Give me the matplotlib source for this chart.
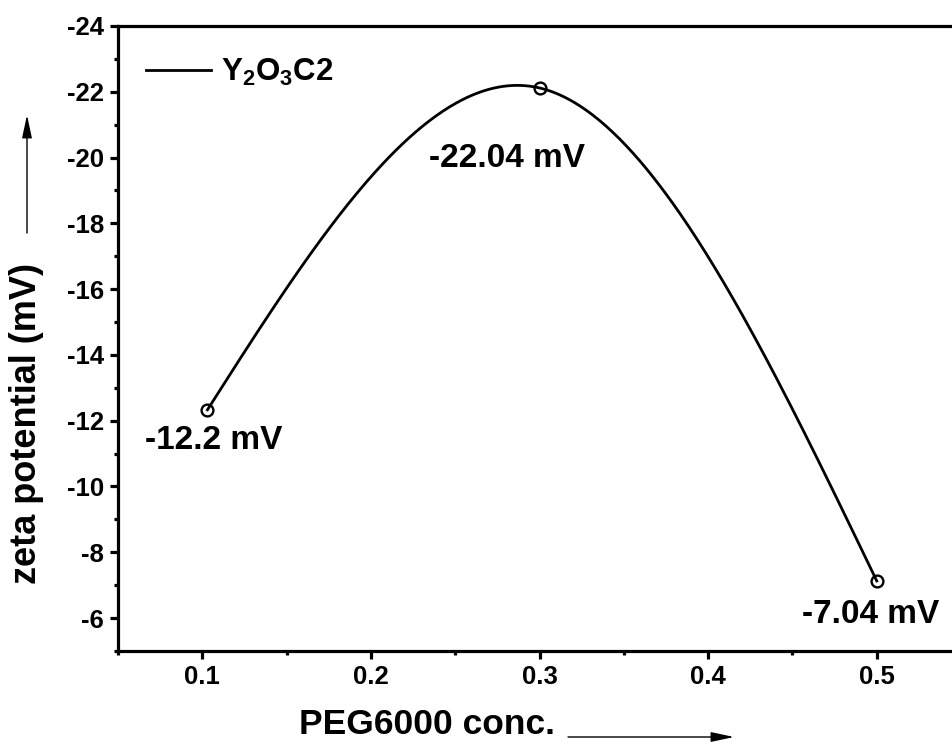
import matplotlib
matplotlib.use("Agg")
import matplotlib.pyplot as plt
import numpy as np

plt.rcParams['font.family'] = ['Liberation Sans', 'DejaVu Sans']
plt.rcParams['font.weight'] = 'bold'
plt.rcParams['mathtext.fontset'] = 'custom'
plt.rcParams['mathtext.rm'] = 'Liberation Sans:bold'
plt.rcParams['mathtext.it'] = 'Liberation Sans:bold'
plt.rcParams['mathtext.bf'] = 'Liberation Sans:bold'
plt.rcParams['mathtext.default'] = 'rm'

# data
peg_conc = [0.103, 0.3005, 0.5]
zeta = [-12.33, -22.11, -7.13]
point_labels = ['-12.2 mV', '-22.04 mV', '-7.04 mV']
label_pos = [(0.107, -11.39), (0.2807, -19.96), (0.4966, -6.10)]
series_name = 'Y$_2$O$_3$C2'


def natural_spline(x, y, n=300):
    # natural cubic spline through the measured points (like Origin's spline line)
    x = np.asarray(x, float)
    y = np.asarray(y, float)
    k = len(x)
    h = np.diff(x)
    A = np.zeros((k, k))
    r = np.zeros(k)
    A[0, 0] = A[-1, -1] = 1
    for i in range(1, k - 1):
        A[i, i - 1] = h[i - 1]
        A[i, i] = 2 * (h[i - 1] + h[i])
        A[i, i + 1] = h[i]
        r[i] = 6 * ((y[i + 1] - y[i]) / h[i] - (y[i] - y[i - 1]) / h[i - 1])
    M = np.linalg.solve(A, r)
    xs = np.linspace(x[0], x[-1], n)
    idx = np.clip(np.searchsorted(x, xs) - 1, 0, k - 2)
    x0, x1, hi = x[idx], x[idx + 1], h[idx]
    ys = (M[idx] * (x1 - xs) ** 3 / (6 * hi) + M[idx + 1] * (xs - x0) ** 3 / (6 * hi)
          + (y[idx] / hi - M[idx] * hi / 6) * (x1 - xs)
          + (y[idx + 1] / hi - M[idx + 1] * hi / 6) * (xs - x0))
    return xs, ys


fig = plt.figure(figsize=(9.52, 7.51), dpi=100)
ax = fig.add_axes([0.124, 0.1332, 0.8855, 0.8322])

xs, ys = natural_spline(peg_conc, zeta)
ax.plot(xs, ys, color='black', lw=2.0, label=series_name)
ax.plot(peg_conc, zeta, 'o', mfc='none', mec='black', ms=8.5, mew=1.7)

for txt, (tx, ty) in zip(point_labels, label_pos):
    ax.text(tx, ty, txt, fontsize=24, fontweight='bold', ha='center', va='center')

ax.set_xlim(0.05, 0.55)
ax.set_ylim(-5, -24)
ax.set_xticks([0.1, 0.2, 0.3, 0.4, 0.5])
ax.set_xticks(np.arange(0.05, 0.56, 0.05), minor=True)
ax.set_yticks(np.arange(-6, -25, -2))
ax.set_yticks(np.arange(-5, -25, -1), minor=True)
ax.set_yticklabels([str(v) for v in range(-6, -25, -2)])

for s in ax.spines.values():
    s.set_linewidth(2.3)
ax.tick_params(which='major', direction='out', length=6, width=2.3, labelsize=18.5, pad=4)
ax.tick_params(which='minor', direction='out', length=3, width=2.3)
for lab in ax.get_xticklabels() + ax.get_yticklabels():
    lab.set_fontweight('bold')

leg = ax.legend(loc='upper left', frameon=False, fontsize=22.5, handlelength=2.1,
                handletextpad=0.3, borderaxespad=0.4, bbox_to_anchor=(0.003, 0.99))

# axis titles with arrows
fig.text(427 / 952, 1 - 725 / 751, 'PEG6000 conc.', fontsize=25.5, fontweight='bold',
         ha='center', va='center')
fig.text(27 / 952, 1 - 423 / 751, 'zeta potential (mV)', fontsize=26, fontweight='bold',
         ha='center', va='center', rotation=90)
fig.add_artist(matplotlib.patches.FancyArrowPatch(
    (568 / 952, 1 - 737 / 751), (734 / 952, 1 - 737 / 751), transform=fig.transFigure,
    arrowstyle='-|>,head_length=0.7,head_width=0.15', mutation_scale=20, lw=1.0,
    color='black', shrinkA=0, shrinkB=0))
fig.add_artist(matplotlib.patches.FancyArrowPatch(
    (27 / 952, 1 - 233 / 751), (27 / 952, 1 - 115 / 751), transform=fig.transFigure,
    arrowstyle='-|>,head_length=0.7,head_width=0.15', mutation_scale=20, lw=1.0,
    color='black', shrinkA=0, shrinkB=0))

fig.savefig('out.png', dpi=100)
